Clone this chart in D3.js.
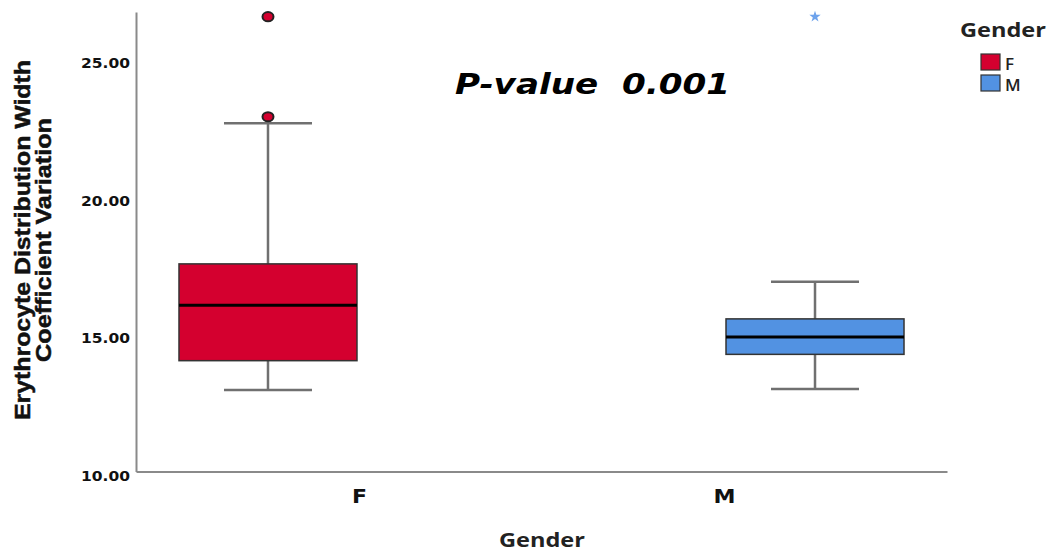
<!DOCTYPE html>
<html>
<head>
<meta charset="utf-8">
<script src="https://cdn.jsdelivr.net/npm/d3@7"></script>
<style>
  html, body { margin: 0; padding: 0; background: #fff; }
  svg { display: block; }
</style>
</head>
<body>
<svg id="chart" width="1048" height="553"></svg>
<script>
// Box-plot summaries of RDW-CV by gender
const categories   = ["F", "M"];
const lowWhisker   = [12.96, 13.00];
const lowerQuart   = [14.03, 14.26];
const medians      = [16.05, 14.89];
const upperQuart   = [17.55, 15.55];
const highWhisker  = [22.66, 16.90];
const outliers     = [[22.90, 26.54], []];   // circles
const extremes     = [[], [26.54]];          // stars
const yTicks       = [10, 15, 20, 25];
const colors       = ["#d4002f", "#5292e2"];
const pValueText   = "P-value  0.001";

const svg = d3.select("#chart");
const plotLeft = 136, plotRight = 947, plotTop = 12, plotBottom = 471.5;

const y = d3.scaleLinear().domain([10, 26.71]).range([plotBottom, plotTop]);
const xBox = d3.scalePoint().domain(categories).range([plotLeft, plotRight]).padding(0.2413);
const xLab = d3.scalePoint().domain(categories).range([plotLeft, plotRight]).padding(0.611);

const boxHalf = 89, capHalf = 44;
const heavy = "DejaVu Sans, sans-serif";

// y axis
const yAxis = svg.append("g")
  .attr("transform", `translate(${plotLeft},0)`)
  .call(d3.axisLeft(y).tickValues(yTicks).tickSize(0).tickSizeOuter(0).tickPadding(6)
        .tickFormat(d3.format(".2f")));
yAxis.select(".domain").attr("stroke", "#8a8a8a").attr("stroke-width", 2);
yAxis.selectAll("text")
  .attr("font-family", heavy)
  .attr("font-weight", "bold").attr("font-size", 13.5).attr("fill", "#111")
  .attr("dy", "0.64em")
  .attr("textLength", 49).attr("lengthAdjust", "spacingAndGlyphs");

// x axis
const xAxis = svg.append("g")
  .attr("transform", `translate(0,${plotBottom})`)
  .call(d3.axisBottom(xLab).tickSize(0).tickSizeOuter(0));
xAxis.select(".domain").attr("stroke", "#8a8a8a").attr("stroke-width", 2);
xAxis.selectAll("text")
  .attr("font-family", heavy)
  .attr("font-weight", "bold").attr("font-size", 20).attr("fill", "#111")
  .attr("dy", null).attr("y", 31)
  .attr("textLength", d => d === "M" ? 22 : 15).attr("lengthAdjust", "spacingAndGlyphs");

// boxes
const groups = svg.append("g").selectAll("g.box")
  .data(categories).join("g").attr("class", "box");

groups.append("line") // upper whisker
  .attr("x1", d => xBox(d)).attr("x2", d => xBox(d))
  .attr("y1", (d, i) => y(upperQuart[i])).attr("y2", (d, i) => y(highWhisker[i]))
  .attr("stroke", "#707070").attr("stroke-width", 2.5);
groups.append("line") // lower whisker
  .attr("x1", d => xBox(d)).attr("x2", d => xBox(d))
  .attr("y1", (d, i) => y(lowerQuart[i])).attr("y2", (d, i) => y(lowWhisker[i]))
  .attr("stroke", "#707070").attr("stroke-width", 2.5);
groups.append("line") // upper cap
  .attr("x1", d => xBox(d) - capHalf).attr("x2", d => xBox(d) + capHalf)
  .attr("y1", (d, i) => y(highWhisker[i])).attr("y2", (d, i) => y(highWhisker[i]))
  .attr("stroke", "#707070").attr("stroke-width", 2.5);
groups.append("line") // lower cap
  .attr("x1", d => xBox(d) - capHalf).attr("x2", d => xBox(d) + capHalf)
  .attr("y1", (d, i) => y(lowWhisker[i])).attr("y2", (d, i) => y(lowWhisker[i]))
  .attr("stroke", "#707070").attr("stroke-width", 2.5);
groups.append("rect")
  .attr("x", d => xBox(d) - boxHalf).attr("width", boxHalf * 2)
  .attr("y", (d, i) => y(upperQuart[i]))
  .attr("height", (d, i) => y(lowerQuart[i]) - y(upperQuart[i]))
  .attr("fill", (d, i) => colors[i]).attr("stroke", "#333").attr("stroke-width", 1.5);
groups.append("line") // median
  .attr("x1", d => xBox(d) - boxHalf).attr("x2", d => xBox(d) + boxHalf)
  .attr("y1", (d, i) => y(medians[i])).attr("y2", (d, i) => y(medians[i]))
  .attr("stroke", "#000").attr("stroke-width", 3);

// outlier circles and extreme-value stars
groups.each(function (d, i) {
  d3.select(this).selectAll("ellipse").data(outliers[i]).join("ellipse")
    .attr("cx", xBox(d)).attr("cy", v => y(v))
    .attr("rx", 5.5).attr("ry", 4.6)
    .attr("fill", colors[i]).attr("stroke", "#222").attr("stroke-width", 2);
  d3.select(this).selectAll("path.extreme").data(extremes[i]).join("path")
    .attr("class", "extreme")
    .attr("transform", v => `translate(${xBox(d)},${y(v)})`)
    .attr("d", d3.symbol(d3.symbolStar, 40))
    .attr("fill", "#6ea3ec");
});

// p-value annotation
svg.append("text")
  .attr("x", 455).attr("y", 94)
  .attr("font-family", heavy)
  .attr("font-weight", "bold").attr("font-style", "italic").attr("font-size", 28.5)
  .style("white-space", "pre")
  .attr("textLength", 275).attr("lengthAdjust", "spacingAndGlyphs")
  .text(pValueText);

// y title (two lines)
const yTitle = ["Erythrocyte Distribution Width", "Coefficient Variation"];
const yTitleLen = [360, 244];
const yTitleX = [29.5, 51];
yTitle.forEach((t, i) => {
  svg.append("text")
    .attr("transform", `translate(${yTitleX[i]},240) rotate(-90)`)
    .attr("text-anchor", "middle")
    .attr("font-family", "Liberation Sans, Arial, sans-serif")
    .attr("font-weight", "bold").attr("font-size", 22.5).attr("fill", "#111")
    .attr("stroke", "#111").attr("stroke-width", 0.5)
    .attr("textLength", yTitleLen[i]).attr("lengthAdjust", "spacingAndGlyphs")
    .text(t);
});

// x title
svg.append("text")
  .attr("x", 499).attr("y", 547)
  .attr("font-family", "Open Sans, sans-serif")
  .attr("font-weight", "bold").attr("font-size", 19).attr("fill", "#222")
  .attr("textLength", 86).attr("lengthAdjust", "spacingAndGlyphs")
  .text("Gender");

// legend
svg.append("text")
  .attr("x", 960).attr("y", 36.5)
  .attr("font-family", "Open Sans, sans-serif")
  .attr("font-weight", "bold").attr("font-size", 19).attr("fill", "#222")
  .attr("textLength", 86).attr("lengthAdjust", "spacingAndGlyphs")
  .text("Gender");
const legend = svg.append("g").selectAll("g").data(categories).join("g")
  .attr("transform", (d, i) => `translate(981,${54 + i * 21})`);
legend.append("rect").attr("width", 19).attr("height", 16)
  .attr("fill", (d, i) => colors[i]).attr("stroke", "#333").attr("stroke-width", 1.2);
legend.append("text").attr("x", 24).attr("y", 15.5)
  .attr("font-family", "Open Sans, sans-serif")
  .attr("font-weight", 600).attr("font-size", 17).attr("fill", "#222")
  .text(d => d);
</script>
</body>
</html>
